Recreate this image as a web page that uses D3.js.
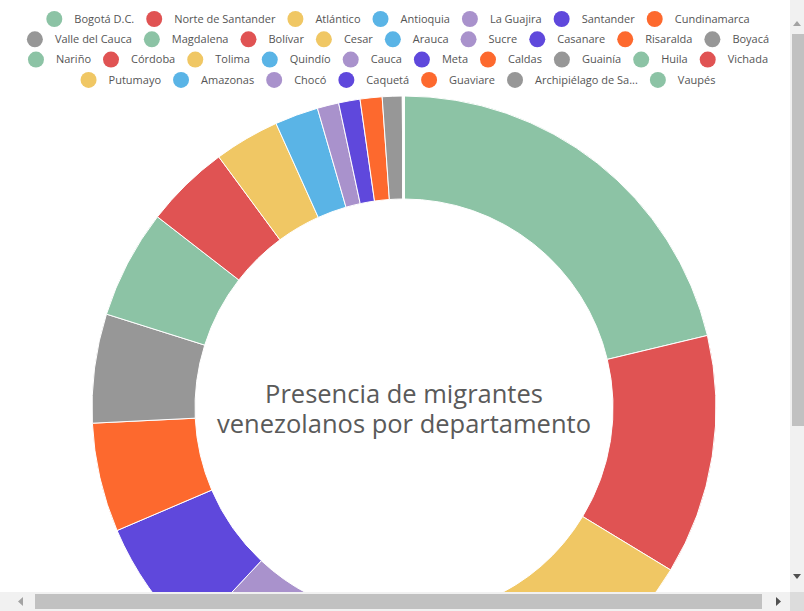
<!DOCTYPE html>
<html>
<head>
<meta charset="utf-8">
<script src="https://cdn.jsdelivr.net/npm/d3@7"></script>
<style>
  body { margin: 0; background: #fff; }
  svg { display: block; font-family: "Open Sans", sans-serif; }
</style>
</head>
<body>
<svg width="804" height="611"></svg>
<script>
var departamentos = [
  "Bogotá D.C.", "Norte de Santander", "Atlántico", "Antioquia", "La Guajira",
  "Santander", "Cundinamarca", "Valle del Cauca", "Magdalena", "Bolívar",
  "Cesar", "Arauca", "Sucre", "Casanare", "Risaralda", "Boyacá",
  "Nariño", "Córdoba", "Tolima", "Quindío", "Cauca", "Meta", "Caldas",
  "Guainía", "Huila", "Vichada", "Putumayo", "Amazonas", "Chocó",
  "Caquetá", "Guaviare", "Archipiélago de San Andrés", "Vaupés"
];

var migrantes = [
  297500, 173800, 138100, 132200, 125200,
  92600, 79000, 78900, 78800, 61400,
  47400, 31500, 15600, 15500, 15900, 14400,
  190, 160, 140, 120, 100, 90, 80,
  70, 60, 50, 40, 30, 25,
  20, 15, 10, 5
];

var colores = ["#8cc3a5", "#e05353", "#f0c764", "#5ab4e6", "#a992cc", "#5f48dc", "#fd692e", "#979797"];

var titulo = ["Presencia de migrantes", "venezolanos por departamento"];

var svg = d3.select("svg"),
    width = +svg.attr("width"),
    height = +svg.attr("height"),
    cx = 404,
    cy = 408,
    outer = 312,
    inner = 209;

var data = departamentos.map(function(d, i) { return {name: d, value: migrantes[i]}; });

var color = d3.scaleOrdinal(colores).domain(departamentos);

var pie = d3.pie()
    .sort(null)
    .value(function(d) { return d.value; });

var arc = d3.arc()
    .innerRadius(inner)
    .outerRadius(outer);

var g = svg.append("g")
    .attr("transform", "translate(" + cx + "," + cy + ")");

g.selectAll(".slice")
  .data(pie(data))
  .enter().append("path")
    .attr("class", "slice")
    .attr("d", arc)
    .attr("fill", function(d) { return color(d.data.name); })
    .attr("stroke", "#fff")
    .attr("stroke-width", 1);

g.append("text")
    .attr("text-anchor", "middle")
    .attr("fill", "#5a5a5a")
    .style("font-size", "25.5px")
  .selectAll("tspan")
  .data(titulo)
  .enter().append("tspan")
    .attr("x", 0)
    .attr("y", function(d, i) { return -5 + i * 30; })
    .text(function(d) { return d; });

// legend, flowed into centred rows
var legend = svg.append("g").attr("class", "legend");

var items = legend.selectAll(".item")
  .data(data)
  .enter().append("g")
    .attr("class", "item");

items.append("circle")
    .attr("r", 8)
    .attr("fill", function(d) { return color(d.name); });

items.append("text")
    .attr("x", 20)
    .attr("dy", "0.35em")
    .attr("fill", "#555")
    .style("font-size", "11px")
    .text(function(d) { return d.name.length > 20 ? d.name.slice(0, 18) + "..." : d.name; });

var maxRow = 780, rows = [], row = [], rowW = 0;
items.each(function(d) {
  var w = 20 + this.querySelector("text").getComputedTextLength();
  var add = row.length ? 20 + w : w + 8;
  if (row.length && rowW + add > maxRow) {
    rows.push({items: row, w: rowW});
    row = [];
    rowW = 0;
    add = w + 8;
  }
  row.push({node: this, w: w});
  rowW += add;
});
rows.push({items: row, w: rowW});

rows.forEach(function(r, ri) {
  var x = 398 - r.w / 2 + 8;
  r.items.forEach(function(it) {
    d3.select(it.node).attr("transform", "translate(" + x + "," + (19 + ri * 20.3) + ")");
    x += it.w + 20;
  });
});

// scrollbars of the container
var sb = svg.append("g").attr("class", "scrollbars");
sb.append("rect").attr("x", 790).attr("y", 0).attr("width", 14).attr("height", 592).attr("fill", "#f1f1f1");
sb.append("rect").attr("x", 792).attr("y", 34).attr("width", 12).attr("height", 392).attr("fill", "#c1c1c1");
sb.append("path").attr("d", "M793,26 L797,21 L801,26 Z").attr("fill", "#a3a3a3");
sb.append("path").attr("d", "M793,574 L797,579 L801,574 Z").attr("fill", "#505050");
sb.append("rect").attr("x", 0).attr("y", 592).attr("width", 790).attr("height", 19).attr("fill", "#f1f1f1");
sb.append("rect").attr("x", 35).attr("y", 594).attr("width", 727).attr("height", 15).attr("fill", "#c1c1c1");
sb.append("path").attr("d", "M23,597 L18,601.5 L23,606 Z").attr("fill", "#a3a3a3");
sb.append("path").attr("d", "M776,597 L781,601.5 L776,606 Z").attr("fill", "#505050");
sb.append("rect").attr("x", 790).attr("y", 592).attr("width", 14).attr("height", 19).attr("fill", "#dcdcdc");
</script>
</body>
</html>
